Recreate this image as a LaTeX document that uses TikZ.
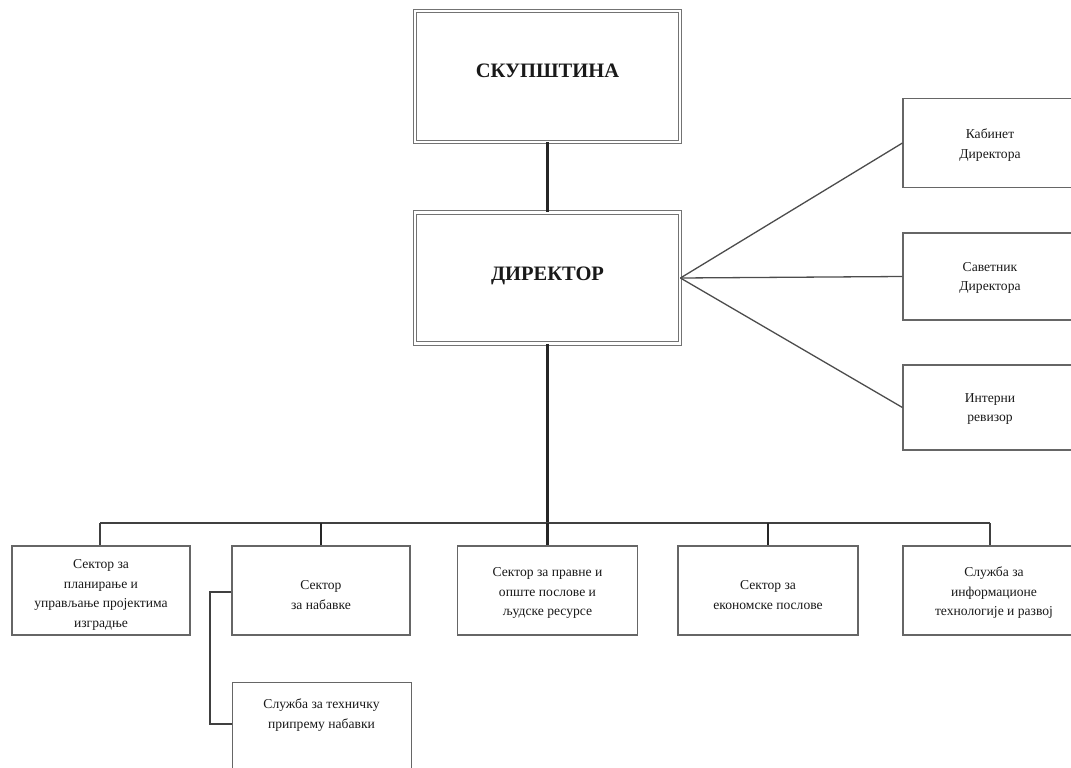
\documentclass[tikz,border=0pt]{standalone}
\usepackage{fontspec}
\setmainfont{Liberation Serif}
\begin{document}
\begin{tikzpicture}[x=1pt,y=-1pt,
  topbox/.style={draw=black!55, line width=0.9pt, double=white, double distance=2.4pt,
    minimum width=265pt, minimum height=131pt, inner sep=0pt,
    font=\fontsize{20.5}{24}\selectfont\bfseries, text=black!90},
  unitbox/.style={draw=black!60, line width=1.1pt, inner sep=0pt, minimum height=89pt},
  unittext/.style={align=center, inner sep=0pt, font=\fontsize{13.6}{19.5}\selectfont, text=black!90},
  thick conn/.style={draw=black!85, line width=2.6pt},
  bus/.style={draw=black!75, line width=1.8pt},
  thin conn/.style={draw=black!70, line width=1.3pt}]
\useasboundingbox (0,0) rectangle (1071,768);
% top boxes
\node[topbox] (skup) at (547.5,76.5) {\raisebox{12pt}{СКУПШТИНА}};
\node[topbox] (dir) at (547.5,278) {\raisebox{8pt}{ДИРЕКТОР}};
% right boxes
\node[unitbox, minimum width=180pt, minimum height=89pt] (kab) at (993,143) {};
\node[unittext] (kabt) at (990,145) {Кабинет\\Директора};
\node[unitbox, minimum width=180pt, minimum height=87pt] (sav) at (993,276.5) {};
\node[unittext] (savt) at (990,278) {Саветник\\Директора};
\node[unitbox, minimum width=180pt, minimum height=85pt] (int) at (993,407.5) {};
\node[unittext] (intt) at (990,409) {Интерни\\ревизор};
% bottom boxes
\node[unitbox, minimum width=178pt] (b1) at (101,590.5) {};
\node[unittext] (b1t) at (101,595) {Сектор за\\планирање и\\управљање пројектима\\изградње};
\node[unitbox, minimum width=178pt] (b2) at (321,590.5) {};
\node[unittext] (b2t) at (321,595) {Сектор\\за набавке};
\node[unitbox, minimum width=180pt] (b3) at (547.5,590.5) {};
\node[unittext] (b3t) at (547.5,593) {Сектор за правне и\\опште послове и\\људске ресурсе};
\node[unitbox, minimum width=180pt] (b4) at (768,590.5) {};
\node[unittext] (b4t) at (768,595) {Сектор за\\економске послове};
\node[unitbox, minimum width=180pt] (b5) at (993,590.5) {};
\node[unittext] (b5t) at (994,593) {Служба за\\информационе\\технологије и развој};
\node[unitbox, minimum width=179pt, minimum height=120pt, anchor=north west] (b6) at (232,682) {};
\node[unittext] (b6t) at (321.5,715) {Служба за техничку\\припрему набавки};
% connectors
\draw[thick conn] (skup.south) -- (dir.north);
\coordinate (busc) at (547.5,523);
\coordinate (busl) at (100,523);
\coordinate (busr) at (990,523);
\draw[thick conn] (dir.south) -- (busc);
\draw[bus] (busl) -- (busr);
\draw[bus] (busl) -- (b1.north -| busl);
\draw[thick conn] (b2.north |- busc) -- (b2.north);
\draw[thick conn] (busc) -- (b3.north);
\draw[thick conn] (b4.north |- busc) -- (b4.north);
\draw[bus] (busr) -- (b5.north -| busr);
\draw[thin conn] (dir.east) -- (kab.west);
\draw[thin conn] (dir.east) -- (sav.west);
\draw[thin conn] (dir.east) -- (int.west);
\coordinate (side) at (210,592);
\draw[bus] (b2.west |- side) -- (side) -- (210,724) -- (b6.west |- 0,724);
\end{tikzpicture}
\end{document}
